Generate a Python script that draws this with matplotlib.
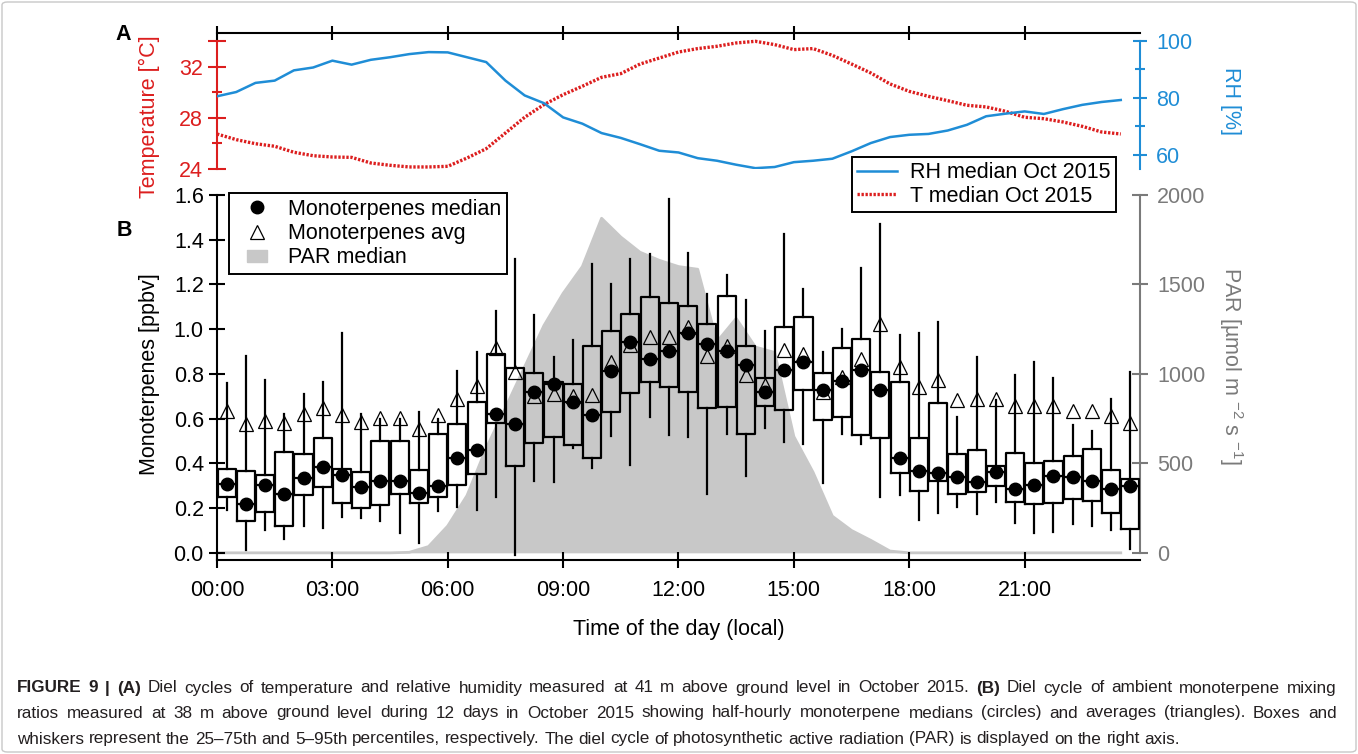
import matplotlib
matplotlib.use("Agg")
import matplotlib.pyplot as plt
from matplotlib import font_manager
from matplotlib.lines import Line2D
from matplotlib.patches import FancyBboxPatch
import numpy as np

plt.rcParams['font.family'] = ['Liberation Sans', 'DejaVu Sans']
plt.rcParams['mathtext.default'] = 'regular'

FS = 15.5
RED = '#dc1e1e'
BLUE = '#1f8dd6'
PARGRAY = '#c8c8c8'
AXGRAY = '#7a7a7a'
TXT = '#231f20'

# half-hourly times (00:00 ... 23:30) for T, RH and PAR
t_half = np.arange(48) * 0.5
# boxes sit in the middle of each half hour
t_box = t_half + 0.25

temp_median = [26.74, 26.30, 25.98, 25.78, 25.31, 25.04, 24.94, 24.91, 24.47, 24.29,
               24.16, 24.16, 24.21, 24.86, 25.59, 26.82, 28.05, 29.04, 29.82, 30.48,
               31.18, 31.47, 32.22, 32.69, 33.16, 33.43, 33.61, 33.87, 34.00, 33.74,
               33.35, 33.43, 32.90, 32.22, 31.52, 30.66, 30.08, 29.69, 29.35, 28.99,
               28.86, 28.52, 28.05, 27.94, 27.68, 27.34, 26.90, 26.74]
rh_median = [80.5, 82.0, 85.2, 86.0, 89.6, 90.6, 93.0, 91.6, 93.3, 94.2,
             95.3, 96.0, 95.9, 94.2, 92.5, 86.0, 80.8, 78.1, 73.1, 70.9,
             67.6, 65.9, 63.7, 61.4, 60.8, 58.8, 57.9, 56.5, 55.3, 55.7,
             57.4, 57.9, 58.6, 61.2, 64.1, 66.2, 67.0, 67.3, 68.5, 70.5,
             73.5, 74.4, 75.2, 74.3, 76.0, 77.5, 78.5, 79.2]
par_median = [0, 0, 0, 0, 0, 0, 0, 0, 0, 0,
              3, 35, 150, 320, 585, 810, 1040, 1270, 1450, 1600,
              1870, 1765, 1680, 1635, 1600, 1585, 1180, 1310, 1150, 1120,
              650, 450, 205, 125, 70, 10, 0, 0, 0, 0,
              0, 0, 0, 0, 0, 0, 0, 0]

mt_p05 = [0.192, 0.013, 0.100, 0.061, 0.121, 0.113, 0.162, 0.155, 0.144, 0.088,
          0.043, 0.185, 0.204, 0.192, 0.251, -0.010, 0.323, 0.315, 0.470, 0.380,
          0.522, 0.393, 0.609, 0.527, 0.519, 0.263, 0.530, 0.344, 0.557, 0.494,
          0.487, 0.311, 0.530, 0.487, 0.251, 0.259, 0.147, 0.180, 0.207, 0.173,
          0.226, 0.132, 0.088, 0.095, 0.128, 0.121, 0.100, 0.016]
mt_p25 = [0.249, 0.143, 0.182, 0.118, 0.259, 0.296, 0.222, 0.199, 0.214, 0.262,
          0.222, 0.251, 0.304, 0.353, 0.582, 0.388, 0.490, 0.519, 0.482, 0.426,
          0.631, 0.716, 0.762, 0.740, 0.720, 0.646, 0.653, 0.531, 0.658, 0.638,
          0.728, 0.594, 0.609, 0.527, 0.512, 0.359, 0.277, 0.323, 0.263, 0.271,
          0.299, 0.226, 0.217, 0.222, 0.240, 0.232, 0.180, 0.107]
mt_median = [0.308, 0.217, 0.305, 0.263, 0.333, 0.382, 0.348, 0.293, 0.323, 0.323,
             0.266, 0.299, 0.426, 0.460, 0.621, 0.576, 0.720, 0.757, 0.676, 0.616,
             0.813, 0.943, 0.866, 0.903, 0.981, 0.936, 0.903, 0.839, 0.719, 0.817,
             0.854, 0.728, 0.769, 0.817, 0.728, 0.426, 0.366, 0.359, 0.341, 0.315,
             0.363, 0.284, 0.304, 0.345, 0.341, 0.323, 0.286, 0.301]
mt_p75 = [0.373, 0.366, 0.348, 0.449, 0.440, 0.512, 0.373, 0.360, 0.501, 0.501,
          0.370, 0.531, 0.574, 0.676, 0.887, 0.827, 0.805, 0.765, 0.753, 0.924,
          0.990, 1.067, 1.144, 1.118, 1.103, 1.021, 1.147, 0.924, 0.780, 1.010,
          1.055, 0.802, 0.915, 0.955, 0.807, 0.765, 0.512, 0.668, 0.440, 0.460,
          0.390, 0.445, 0.400, 0.411, 0.435, 0.464, 0.371, 0.330]
mt_p95 = [0.760, 0.879, 0.772, 0.623, 0.710, 0.765, 0.984, 0.620, 0.600, 0.600,
          0.631, 0.600, 0.812, 0.899, 1.082, 1.312, 1.062, 0.876, 0.951, 1.293,
          1.201, 1.312, 1.335, 1.583, 1.341, 1.159, 1.241, 1.132, 0.993, 1.427,
          1.179, 0.899, 1.003, 1.275, 1.472, 0.973, 0.981, 1.033, 0.609, 0.876,
          0.683, 0.795, 0.854, 0.780, 0.571, 0.546, 0.688, 0.807]
mt_avg = [0.635, 0.574, 0.591, 0.579, 0.619, 0.646, 0.616, 0.583, 0.601, 0.601,
          0.552, 0.618, 0.686, 0.746, 0.917, 0.810, 0.701, 0.710, 0.702, 0.705,
          0.854, 0.929, 0.966, 0.966, 1.010, 0.881, 0.926, 0.795, 0.750, 0.906,
          0.888, 0.720, 0.787, 0.866, 1.025, 0.829, 0.740, 0.772, 0.683, 0.688,
          0.688, 0.656, 0.656, 0.656, 0.635, 0.635, 0.613, 0.579]

hour_ticks = list(range(0, 22, 3))
hour_labels = [f"{h:02d}:00" for h in hour_ticks]

W, H = 1358, 754
fig = plt.figure(figsize=(W / 100, H / 100), dpi=100)


def rect(x0, y0, x1, y1):
    return [x0 / W, 1 - y1 / H, (x1 - x0) / W, (y1 - y0) / H]


def fx(x):
    return x / W


def fy(y):
    return 1 - y / H


# ---------------- panel A: temperature / RH ----------------
ax_t = fig.add_axes(rect(217, 33, 1140, 169))
ax_rh = ax_t.twinx()

ax_rh.plot(t_half, rh_median, color=BLUE, lw=1.8)
ax_t.plot(t_half, temp_median, color=RED, lw=2.4, ls=(0, (0.7, 0.5)))

ax_t.set_xlim(0, 24)
ax_t.set_ylim(24, 34.65)
ax_rh.set_ylim(55, 102.7)

ax_t.xaxis.tick_top()
ax_t.set_xticks(hour_ticks)
ax_t.tick_params(axis='x', direction='inout', length=10, width=1.5,
                 top=True, bottom=False, labeltop=False, labelbottom=False)
ax_t.set_yticks([24, 28, 32, 34])
ax_t.set_yticklabels(['24', '28', '32', ''])
ax_t.set_yticks([26, 30], minor=True)
ax_t.tick_params(axis='y', which='major', direction='inout', length=12.5, width=1.5,
                 colors=RED, labelsize=FS, pad=4)
ax_t.tick_params(axis='y', which='minor', direction='inout', length=6.5, width=1.5,
                 colors=RED)
for s in ['bottom', 'right']:
    ax_t.spines[s].set_visible(False)
ax_t.spines['top'].set_linewidth(1.5)
ax_t.spines['left'].set_color(RED)
ax_t.spines['left'].set_linewidth(1.5)
ax_t.spines['left'].set_bounds(24, 34)

ax_rh.set_yticks([60, 80, 100])
ax_rh.set_yticks([70, 90], minor=True)
ax_rh.tick_params(axis='y', which='major', direction='inout', length=10, width=1.5,
                  colors=BLUE, labelsize=FS, pad=6.5)
ax_rh.tick_params(axis='y', which='minor', direction='inout', length=7, width=1.5,
                  colors=BLUE)
for s in ['top', 'bottom', 'left']:
    ax_rh.spines[s].set_visible(False)
ax_rh.spines['right'].set_color(BLUE)
ax_rh.spines['right'].set_linewidth(1.5)
ax_rh.spines['right'].set_bounds(55, 100)

# ---------------- panel B: monoterpenes / PAR ----------------
ax_b = fig.add_axes(rect(217, 195, 1140, 560))
ax_par = ax_b.twinx()
ax_b.set_zorder(1)
ax_b.patch.set_visible(False)

ylo = -0.032
ax_par.fill_between(t_half, 0, par_median, color=PARGRAY, lw=0)
ax_par.plot(t_half, par_median, color=PARGRAY, lw=2)
ax_par.set_ylim(ylo * 1250, 2000)
ax_par.set_yticks([0, 500, 1000, 1500, 2000])
ax_par.tick_params(axis='y', direction='inout', length=12, width=1.5, colors=AXGRAY,
                   labelsize=FS, pad=6.5)
for s in ['top', 'bottom', 'left']:
    ax_par.spines[s].set_visible(False)
ax_par.spines['right'].set_color(AXGRAY)
ax_par.spines['right'].set_linewidth(1.5)
ax_par.spines['right'].set_bounds(0, 2000)

stats = [dict(whislo=a, q1=b, med=c, q3=d, whishi=e, fliers=[])
         for a, b, c, d, e in zip(mt_p05, mt_p25, mt_median, mt_p75, mt_p95)]
lineprops = dict(color='black', lw=1.6)
ax_b.bxp(stats, positions=t_box, widths=0.47, showcaps=False, showfliers=False,
         manage_ticks=False, boxprops=lineprops, whiskerprops=lineprops,
         medianprops=lineprops)
ax_b.plot(t_box, mt_median, 'o', color='black', ms=9, zorder=5)
ax_b.plot(t_box, mt_avg, '^', mfc='none', mec='black', mew=0.9, ms=10, zorder=5)

ax_b.set_xlim(0, 24)
ax_b.set_ylim(ylo, 1.6)
ax_b.set_yticks(np.arange(0, 1.61, 0.2))
ax_b.set_yticklabels([f"{v:.1f}" for v in np.arange(0, 1.61, 0.2)])
ax_b.set_xticks(hour_ticks)
ax_b.set_xticklabels(hour_labels)
ax_b.tick_params(axis='both', direction='inout', length=11, width=1.5,
                 labelsize=FS, colors='black')
ax_b.tick_params(axis='x', pad=9)
ax_b.tick_params(axis='y', pad=4)
for s in ['top', 'right']:
    ax_b.spines[s].set_visible(False)
for s in ['left', 'bottom']:
    ax_b.spines[s].set_linewidth(1.5)

# ---------------- labels ----------------
fig.text(fx(149), fy(117), 'Temperature [°C]', color=RED, fontsize=FS,
         rotation=90, ha='center', va='center')
fig.text(fx(1230), fy(101), 'RH [%]', color=BLUE, fontsize=FS,
         rotation=270, ha='center', va='center')
fig.text(fx(149), fy(374), 'Monoterpenes [ppbv]', color='black', fontsize=FS,
         rotation=90, ha='center', va='center')
fig.text(fx(1231), fy(366), r'PAR [µmol m $^{-2}$ s $^{-1}$]', color=AXGRAY,
         fontsize=FS, rotation=270, ha='center', va='center')
fig.text(fx(679), fy(629), 'Time of the day (local)', fontsize=FS,
         ha='center', va='center')
fig.text(fx(123), fy(34), 'A', fontsize=FS, fontweight='bold', ha='center', va='center')
fig.text(fx(124), fy(231), 'B', fontsize=FS, fontweight='bold', ha='center', va='center')

# ---------------- legends ----------------
rh_handle = Line2D([], [], color=BLUE, lw=1.8)
t_handle = Line2D([], [], color=RED, lw=2.4, ls=(0, (0.7, 0.5)))
leg1 = fig.legend([rh_handle, t_handle], ['RH median Oct 2015', 'T median Oct 2015'],
                  loc='upper right', bbox_to_anchor=(fx(1116), fy(157)),
                  bbox_transform=fig.transFigure, fontsize=FS, frameon=True,
                  fancybox=False, framealpha=1, edgecolor='black', borderpad=0.25,
                  handlelength=1.86, handletextpad=0.6, labelspacing=0.12,
                  borderaxespad=0)
leg1.get_frame().set_linewidth(1.4)

par_marker = [(-1, -0.6), (1, -0.6), (1, 0.6), (-1, 0.6), (-1, -0.6)]
med_handle = Line2D([], [], marker='o', color='black', ls='none', ms=9)
avg_handle = Line2D([], [], marker='^', mfc='none', mec='black', mew=0.9, ls='none', ms=10)
par_handle = Line2D([], [], marker=par_marker, color=PARGRAY, ls='none', ms=14.5)
leg2 = fig.legend([med_handle, avg_handle, par_handle],
                  ['Monoterpenes median', 'Monoterpenes avg', 'PAR median'],
                  loc='upper left', bbox_to_anchor=(fx(229), fy(193)),
                  bbox_transform=fig.transFigure, fontsize=FS, frameon=True,
                  fancybox=False, framealpha=1, edgecolor='black', borderpad=0.28,
                  handlelength=2.0, handletextpad=0.47, labelspacing=0.14,
                  borderaxespad=0)
leg2.get_frame().set_linewidth(1.4)

# ---------------- caption ----------------
try:
    font_manager.findfont('Liberation Sans Narrow', fallback_to_default=False)
    CAP_FONT = 'Liberation Sans Narrow'
except ValueError:
    CAP_FONT = 'Liberation Sans'

caption_lines = [
    [("FIGURE 9 | (A)", True),
     ("Diel cycles of temperature and relative humidity measured at 41 m above ground "
      "level in October 2015.", False),
     ("(B)", True),
     ("Diel cycle of ambient monoterpene mixing", False)],
    [("ratios measured at 38 m above ground level during 12 days in October 2015 showing "
      "half-hourly monoterpene medians (circles) and averages (triangles). Boxes and", False)],
    [("whiskers represent the 25–75th and 5–95th percentiles, respectively. The diel cycle "
      "of photosynthetic active radiation (PAR) is displayed on the right axis.", False)],
]
caption_y = [688, 713, 739]
cap_left, cap_right, last_right = 17, 1337, 1182

renderer = fig.canvas.get_renderer()


def text_width(s, size, bold):
    t = fig.text(0, 0, s, fontsize=size, fontfamily=CAP_FONT,
                 fontweight='bold' if bold else 'normal')
    w = t.get_window_extent(renderer).width
    t.remove()
    return w


def words_of(line):
    out = []
    for run, bold in line:
        out += [(w, bold) for w in run.split(' ')]
    return out


base = 10.0
last_words = words_of(caption_lines[-1])
sp = text_width('x x', base, False) - text_width('xx', base, False)
natural = sum(text_width(w, base, b) for w, b in last_words) + sp * (len(last_words) - 1)
cap_size = base * (last_right - cap_left) / natural
space = text_width('x x', cap_size, False) - text_width('xx', cap_size, False)

for i, (line, y) in enumerate(zip(caption_lines, caption_y)):
    words = words_of(line)
    widths = [text_width(w, cap_size, b) for w, b in words]
    if i < len(caption_lines) - 1:
        gap = (cap_right - cap_left - sum(widths)) / (len(words) - 1)
    else:
        gap = space
    x = cap_left
    for (w, b), wd in zip(words, widths):
        fig.text(fx(x), fy(y), w, fontsize=cap_size, fontfamily=CAP_FONT,
                 fontweight='bold' if b else 'normal', color=TXT, va='center')
        x += wd + gap

border = FancyBboxPatch((fx(2), fy(752)), fx(1354), fy(2) - fy(752),
                        boxstyle='round,pad=0,rounding_size=0.004',
                        transform=fig.transFigure, fill=False, edgecolor='#c8c8c8',
                        lw=1.0)
fig.patches.append(border)

fig.savefig('out.png', dpi=100)
